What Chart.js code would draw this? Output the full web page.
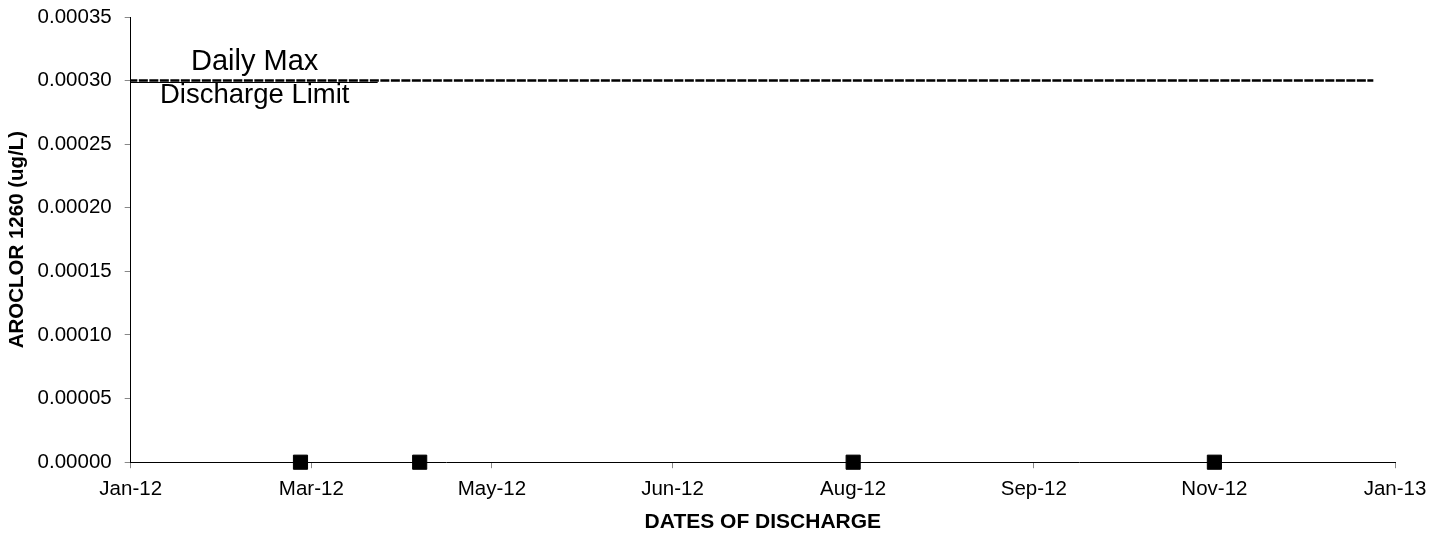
<!DOCTYPE html>
<html>
<head>
<meta charset="utf-8">
<script src="https://cdn.jsdelivr.net/npm/chart.js@4"></script>
<style>
  html, body { margin: 0; padding: 0; background: #fff; }
  #wrap { width: 1446px; height: 535px; }
</style>
</head>
<body>
<div id="wrap"><canvas id="c" width="1446" height="535"></canvas></div>
<script>
// ---- data ----
const sampleDates = ['2012-03-09', '2012-04-11', '2012-08-09', '2012-11-17'];
const sampleValues = [0, 0, 0, 0];
const limitDates = ['2012-01-01', '2012-12-31'];
const limitValues = [0.0003, 0.0003];
const tickLabels = ['Jan-12', 'Mar-12', 'May-12', 'Jun-12', 'Aug-12', 'Sep-12', 'Nov-12', 'Jan-13'];
const axisStartDate = '2012-01-22';
const axisStepDays = 50;
const yTicks = [0, 0.00005, 0.0001, 0.00015, 0.0002, 0.00025, 0.0003, 0.00035];
const limitLabel = ['Daily Max', 'Discharge Limit'];

const DAY = 86400000;
const toDay = s => Date.parse(s + 'T00:00:00Z') / DAY;
const xMin = toDay(axisStartDate);
const xMax = xMin + axisStepDays * (tickLabels.length - 1);

const samples = sampleDates.map((d, i) => ({ x: toDay(d), y: sampleValues[i] }));
const limit = limitDates.map((d, i) => ({ x: toDay(d), y: limitValues[i] }));

const FONT = "'Liberation Sans', Arial, sans-serif";

const labelPlugin = {
  id: 'limitLabel',
  afterDatasetsDraw(chart) {
    const { ctx, chartArea, scales } = chart;
    const y = scales.y.getPixelForValue(limitValues[0]);
    const cx = chartArea.left + 124;
    ctx.save();
    // thin underline of the label box
    ctx.strokeStyle = '#000';
    ctx.lineWidth = 1;
    ctx.beginPath();
    ctx.moveTo(chartArea.left, Math.round(y) + 1.5);
    ctx.lineTo(chartArea.left + 247, Math.round(y) + 1.5);
    ctx.stroke();
    ctx.fillStyle = '#000';
    ctx.textAlign = 'center';
    ctx.textBaseline = 'alphabetic';
    ctx.font = '29px ' + FONT;
    ctx.fillText(limitLabel[0], cx, y - 11);
    ctx.font = '27.5px ' + FONT;
    ctx.fillText(limitLabel[1], cx, y + 22);
    ctx.restore();
  }
};

new Chart(document.getElementById('c'), {
  type: 'scatter',
  data: {
    datasets: [
      {
        label: 'Limit',
        data: limit,
        showLine: true,
        borderColor: '#000',
        borderWidth: 2.5,
        borderDash: [9, 1.5],
        pointRadius: 0,
        pointHoverRadius: 0,
        fill: false,
        order: 2
      },
      {
        label: 'Aroclor 1260',
        data: samples,
        showLine: false,
        pointStyle: 'rect',
        pointRadius: 10,
        pointHoverRadius: 10,
        backgroundColor: '#000',
        borderColor: '#000',
        borderWidth: 1,
        clip: false,
        order: 1
      }
    ]
  },
  options: {
    responsive: false,
    animation: false,
    events: [],
    layout: { padding: { left: 5, right: 51, top: 17, bottom: 0 } },
    plugins: {
      legend: { display: false },
      tooltip: { enabled: false }
    },
    scales: {
      x: {
        type: 'linear',
        min: xMin,
        max: xMax,
        afterBuildTicks(scale) {
          scale.ticks = tickLabels.map((_, i) => ({ value: xMin + i * axisStepDays }));
        },
        ticks: {
          color: '#000',
          font: { family: FONT, size: 20.5 },
          padding: 9,
          maxRotation: 0,
          autoSkip: false,
          callback: (v, i) => tickLabels[i]
        },
        grid: { display: true, drawOnChartArea: false, drawTicks: true, tickLength: 6, color: '#888' },
        border: { display: true, color: '#000', width: 1 },
        title: {
          display: true,
          text: 'DATES OF DISCHARGE',
          color: '#000',
          font: { family: FONT, size: 21, weight: 'bold' },
          padding: { top: -1, bottom: 0 }
        }
      },
      y: {
        type: 'linear',
        min: 0,
        max: 0.00035,
        afterBuildTicks(scale) {
          scale.ticks = yTicks.map(v => ({ value: v }));
        },
        afterFit(scale) {
          scale.width -= 9;
          scale.paddingTop = 0;
        },
        ticks: {
          color: '#000',
          font: { family: FONT, size: 20.5 },
          padding: 13,
          callback: v => v.toFixed(5)
        },
        grid: { display: true, drawOnChartArea: false, drawTicks: true, tickLength: 6, color: '#888' },
        border: { display: true, color: '#000', width: 1 },
        title: {
          display: true,
          text: 'AROCLOR 1260 (ug/L)',
          color: '#000',
          font: { family: FONT, size: 20.5, weight: 'bold' },
          padding: { top: 0, bottom: 4 }
        }
      }
    }
  },
  plugins: [labelPlugin]
});
</script>
</body>
</html>
